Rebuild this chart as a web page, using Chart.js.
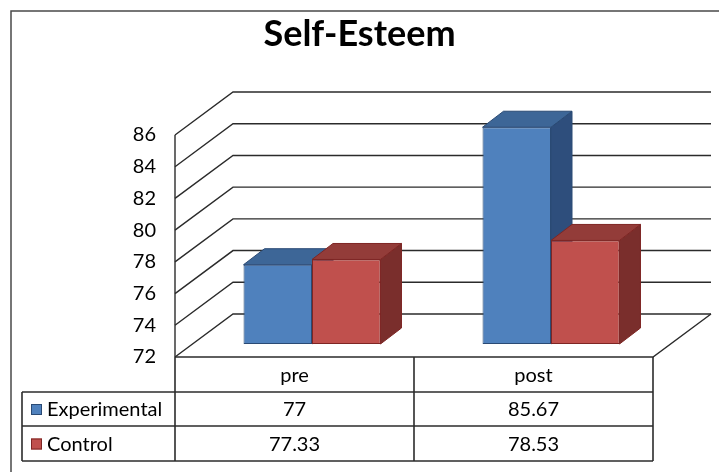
<!doctype html>
<html lang="en">
  <head>
    <meta charset="UTF-8" />
    <title>Self-Esteem</title>
    <style>
      html, body { margin: 0; padding: 0; background: #fff; }
      canvas { display: block; }
    </style>
  </head>

  <body>
    <canvas id="chart" width="719" height="472"></canvas>

    <script src="https://cdn.jsdelivr.net/npm/chart.js@4"></script>

    <script>
      const categories = ['pre', 'post']
      const seriesNames = ['Experimental', 'Control']
      const experimental = [77, 85.67]
      const control = [77.33, 78.53]
      const yTicks = [72, 74, 76, 78, 80, 82, 84, 86]

      const COLORS = {
        blue: { front: '#4F81BD', top: '#3D6697', side: '#2E4E7C', border: '#2A4A74' },
        red: { front: '#C0504D', top: '#933C39', side: '#7A2E2C', border: '#7E2624' },
      }
      const SERIES_COLORS = [COLORS.blue, COLORS.red]

      // 3d look: full depth of the floor and where the bars sit in it
      const DEPTH = { dx: 58, dy: -43 }
      const BAR_FRONT = { dx: 17.5, dy: -13 }
      const BAR_DEPTH = { dx: 21, dy: -16 }
      const LINE = '#2b2b2b'
      const FONT = 'Lato'

      const TABLE_LEFT = 22
      const ROW_H = [35, 34, 35]

      function line(ctx, pts) {
        ctx.beginPath()
        ctx.moveTo(pts[0][0], pts[0][1])
        for (let i = 1; i < pts.length; i++) ctx.lineTo(pts[i][0], pts[i][1])
        ctx.stroke()
      }

      function poly(ctx, pts, fill, stroke) {
        ctx.beginPath()
        ctx.moveTo(pts[0][0], pts[0][1])
        for (let i = 1; i < pts.length; i++) ctx.lineTo(pts[i][0], pts[i][1])
        ctx.closePath()
        ctx.fillStyle = fill
        ctx.fill()
        ctx.strokeStyle = stroke
        ctx.lineWidth = 1
        ctx.stroke()
      }

      const walls = {
        id: 'walls',
        beforeDraw(chart) {
          const { ctx, width, height } = chart
          ctx.save()
          ctx.fillStyle = '#fff'
          ctx.fillRect(0, 0, width, height)
          // outer frame (left and top only)
          ctx.strokeStyle = '#4a4a4a'
          ctx.lineWidth = 1.5
          line(ctx, [[11, height], [11, 11], [width, 11]])
          ctx.restore()
        },
        beforeDatasetsDraw(chart) {
          const { ctx, chartArea } = chart
          const y = chart.scales.y
          const { left, right } = chartArea
          const y0 = y.getPixelForValue(yTicks[0])
          const yTop = y.getPixelForValue(yTicks[yTicks.length - 1])

          ctx.save()
          ctx.strokeStyle = LINE
          ctx.lineWidth = 1.4
          yTicks.forEach((v) => {
            const py = y.getPixelForValue(v)
            line(ctx, [[left, py], [left + DEPTH.dx, py + DEPTH.dy], [right + DEPTH.dx, py + DEPTH.dy]])
          })
          // floor edges and front axis line
          line(ctx, [[left, y0], [right, y0], [right + DEPTH.dx, y0 + DEPTH.dy]])
          line(ctx, [[left, yTop], [left, y0]])
          ctx.restore()

          // side and top faces of the bars, behind their front faces
          ctx.save()
          ctx.translate(BAR_FRONT.dx, BAR_FRONT.dy)
          chart.data.datasets.forEach((ds, di) => {
            const meta = chart.getDatasetMeta(di)
            const c = SERIES_COLORS[di]
            meta.data.forEach((bar) => {
              const l = bar.x - bar.width / 2
              const r = bar.x + bar.width / 2
              const t = bar.y
              const b = bar.base
              const { dx, dy } = BAR_DEPTH
              poly(ctx, [[r, t], [r + dx, t + dy], [r + dx, b + dy], [r, b]], c.side, c.border)
              poly(ctx, [[l, t], [r, t], [r + dx, t + dy], [l + dx, t + dy]], c.top, c.border)
            })
          })
        },
        afterDatasetsDraw(chart) {
          chart.ctx.restore()
        },
        afterDraw(chart) {
          const { ctx, chartArea } = chart
          const x = chart.scales.x
          const { left, right, bottom } = chartArea
          const mid = (x.getPixelForValue(0) + x.getPixelForValue(1)) / 2
          const cols = [left, mid, right]
          const rows = [bottom]
          ROW_H.forEach((h) => rows.push(rows[rows.length - 1] + h))

          ctx.save()
          ctx.strokeStyle = LINE
          ctx.lineWidth = 1.6
          cols.forEach((cx) => line(ctx, [[cx, rows[0]], [cx, rows[3]]]))
          line(ctx, [[TABLE_LEFT, rows[1]], [TABLE_LEFT, rows[3]]])
          for (let i = 1; i < rows.length; i++) line(ctx, [[TABLE_LEFT, rows[i]], [right, rows[i]]])

          ctx.fillStyle = '#000'
          ctx.font = `20px ${FONT}`
          ctx.textBaseline = 'middle'
          ctx.textAlign = 'center'
          categories.forEach((cat, i) => {
            ctx.fillText(cat, x.getPixelForValue(i), (rows[0] + rows[1]) / 2 + 1)
          })
          chart.data.datasets.forEach((ds, di) => {
            const cy = (rows[di + 1] + rows[di + 2]) / 2 + 1
            ds.data.forEach((v, i) => {
              ctx.textAlign = 'center'
              ctx.fillText(String(v), x.getPixelForValue(i), cy)
            })
            const c = SERIES_COLORS[di]
            ctx.fillStyle = c.front
            ctx.fillRect(31, cy - 6, 11, 11)
            ctx.strokeStyle = c.border
            ctx.lineWidth = 1
            ctx.strokeRect(31.5, cy - 5.5, 10, 10)
            ctx.fillStyle = '#000'
            ctx.textAlign = 'left'
            ctx.fillText(ds.label, 47, cy)
          })
          ctx.restore()
        },
      }

      new Chart(document.getElementById('chart'), {
        type: 'bar',
        data: {
          labels: categories,
          datasets: [
            {
              label: seriesNames[0],
              data: experimental,
              backgroundColor: COLORS.blue.front,
              borderColor: COLORS.blue.border,
            },
            {
              label: seriesNames[1],
              data: control,
              backgroundColor: COLORS.red.front,
              borderColor: COLORS.red.border,
            },
          ],
        },
        options: {
          responsive: false,
          animation: false,
          events: [],
          // equal side padding keeps the title centred on the canvas
          layout: { padding: { left: 66, right: 66, top: 0, bottom: 115 } },
          datasets: {
            bar: {
              base: yTicks[0],
              barPercentage: 1,
              categoryPercentage: 0.573,
              borderWidth: 1,
              borderSkipped: false,
              clip: false,
            },
          },
          plugins: {
            legend: { display: false },
            tooltip: { enabled: false },
            title: {
              display: true,
              text: 'Self-Esteem',
              color: '#000',
              font: { family: FONT, size: 36, weight: 'bold', lineHeight: 1.2 },
              padding: { top: 12.4, bottom: 79.4 },
            },
          },
          scales: {
            x: { display: false },
            y: {
              min: yTicks[0],
              max: yTicks[yTicks.length - 1],
              afterBuildTicks: (scale) => {
                scale.ticks = yTicks.map((v) => ({ value: v }))
              },
              afterFit: (scale) => {
                scale.width = 175 - 66
              },
              ticks: {
                padding: 19,
                color: '#000',
                font: { family: FONT, size: 20 },
              },
              grid: { display: false, drawTicks: false },
              border: { display: false },
            },
          },
        },
        plugins: [walls],
      })
    </script>
  </body>
</html>
